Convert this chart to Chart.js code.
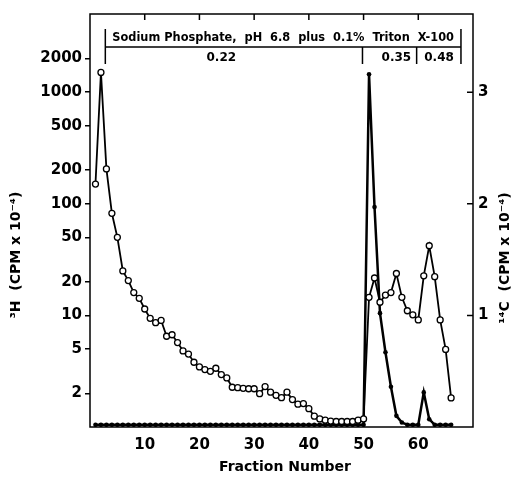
<!DOCTYPE html>
<html>
<head>
<meta charset="utf-8">
<script src="https://cdn.jsdelivr.net/npm/chart.js@4/dist/chart.umd.min.js"></script>
<style>
  html, body { margin: 0; padding: 0; background: #fff; }
  canvas { display: block; }
</style>
</head>
<body>
<canvas id="chart" width="517" height="477"></canvas>
<script>
// Fraction numbers and counts
const fractions = [1, 2, 3, 4, 5, 6, 7, 8, 9, 10, 11, 12, 13, 14, 15, 16, 17, 18, 19, 20,
  21, 22, 23, 24, 25, 26, 27, 28, 29, 30, 31, 32, 33, 34, 35, 36, 37, 38, 39, 40,
  41, 42, 43, 44, 45, 46, 47, 48, 49, 50, 51, 52, 53, 54, 55, 56, 57, 58, 59, 60,
  61, 62, 63, 64, 65, 66];

// 3H, open circles, left log axis
const tritium = [150, 1500, 205, 82, 50, 25, 20.5, 16, 14.2, 11.4,
  9.4, 8.6, 9.0, 6.5, 6.7, 5.7, 4.8, 4.5, 3.8, 3.45,
  3.27, 3.15, 3.36, 2.95, 2.75, 2.27, 2.25, 2.22, 2.2, 2.2,
  1.99, 2.3, 2.05, 1.92, 1.83, 2.05, 1.76, 1.6, 1.62, 1.46,
  1.25, 1.18, 1.15, 1.13, 1.12, 1.12, 1.12, 1.12, 1.15, 1.18,
  14.5, 21.6, 13.1, 15.2, 16.0, 23.7, 14.5, 11.0, 10.1, 9.1,
  22.6, 42, 22.2, 9.1, 4.95, 1.82];

// 14C, filled dots, right linear axis
const carbon = [0.02, 0.02, 0.02, 0.02, 0.02, 0.02, 0.02, 0.02, 0.02, 0.02,
  0.02, 0.02, 0.02, 0.02, 0.02, 0.02, 0.02, 0.02, 0.02, 0.02,
  0.02, 0.02, 0.02, 0.02, 0.02, 0.02, 0.02, 0.02, 0.02, 0.02,
  0.02, 0.02, 0.02, 0.02, 0.02, 0.02, 0.02, 0.02, 0.02, 0.02,
  0.02, 0.02, 0.02, 0.02, 0.02, 0.02, 0.02, 0.02, 0.02, 0.02,
  3.16, 1.97, 1.02, 0.67, 0.36, 0.1, 0.04, 0.02, 0.02, 0.02,
  0.31, 0.07, 0.02, 0.02, 0.02, 0.02];

const leftTicks = [2, 5, 10, 20, 50, 100, 200, 500, 1000, 2000];
const rightTicks = [1, 2, 3];
const xTicks = [10, 20, 30, 40, 50, 60];

// buffer steps (in fraction numbers)
const bufferEdges = [2.8, 49.8, 59.7, 67.8];
const bufferLabels = ['0.22', '0.35', '0.48'];
const bufferLabelAt = [24, 56, 63.8];
const bufferTitle = 'Sodium Phosphate,  pH  6.8  plus  0.1%  Triton  X-100';

const FONT = '"DejaVu Sans", sans-serif';

const decorations = {
  id: 'decorations',
  afterDraw(chart) {
    const { ctx, chartArea: a, scales } = chart;
    const x = scales.x;
    const yr = scales.y1;
    ctx.save();
    ctx.strokeStyle = '#000';
    ctx.fillStyle = '#000';
    ctx.lineWidth = 1.5;

    // plot frame
    ctx.strokeRect(a.left, a.top, a.right - a.left, a.bottom - a.top);

    // inward ticks on top and right edges
    ctx.beginPath();
    xTicks.forEach(v => {
      const px = x.getPixelForValue(v);
      ctx.moveTo(px, a.top);
      ctx.lineTo(px, a.top + 6);
    });
    rightTicks.forEach(v => {
      const py = yr.getPixelForValue(v);
      ctx.moveTo(a.right - 6, py);
      ctx.lineTo(a.right, py);
    });
    ctx.stroke();

    // buffer bracket
    const ex = bufferEdges.map(v => x.getPixelForValue(v));
    const lineY = a.top + 33;
    ctx.beginPath();
    ctx.moveTo(ex[0], lineY);
    ctx.lineTo(ex[ex.length - 1], lineY);
    ctx.moveTo(ex[0], a.top + 15);
    ctx.lineTo(ex[0], a.top + 50);
    ctx.moveTo(ex[ex.length - 1], a.top + 15);
    ctx.lineTo(ex[ex.length - 1], a.top + 50);
    for (let i = 1; i < ex.length - 1; i++) {
      ctx.moveTo(ex[i], lineY);
      ctx.lineTo(ex[i], a.top + 50);
    }
    ctx.stroke();

    ctx.textAlign = 'center';
    ctx.textBaseline = 'middle';
    ctx.font = 'bold 12px ' + FONT;
    ctx.fillText(bufferTitle, (ex[0] + ex[ex.length - 1]) / 2, a.top + 24, ex[ex.length - 1] - ex[0] - 14);
    bufferLabels.forEach((t, i) => {
      ctx.fillText(t, x.getPixelForValue(bufferLabelAt[i]), a.top + 44);
    });

    // axis titles
    ctx.font = 'bold 14px ' + FONT;
    ctx.fillText('Fraction Number', 285, 467);

    ctx.save();
    ctx.translate(16, 255);
    ctx.rotate(-Math.PI / 2);
    ctx.fillText('\u00B3H  (CPM x 10\u207B\u2074)', 0, 0);
    ctx.restore();

    ctx.save();
    ctx.translate(505, 258);
    ctx.rotate(-Math.PI / 2);
    ctx.fillText('\u00B9\u2074C  (CPM x 10\u207B\u2074)', 0, 0);
    ctx.restore();

    ctx.restore();
  }
};

const ctx = document.getElementById('chart').getContext('2d');

new Chart(ctx, {
  type: 'line',
  data: {
    datasets: [{
      label: '3H',
      data: fractions.map((f, i) => ({ x: f, y: tritium[i] })),
      yAxisID: 'y',
      borderColor: '#000',
      borderWidth: 1.8,
      pointRadius: 3,
      pointBackgroundColor: '#fff',
      pointBorderColor: '#000',
      pointBorderWidth: 1.3,
      tension: 0
    }, {
      label: '14C',
      data: fractions.map((f, i) => ({ x: f, y: carbon[i] })),
      yAxisID: 'y1',
      borderColor: '#000',
      borderWidth: 2.5,
      pointRadius: 2.3,
      pointBackgroundColor: '#000',
      pointBorderColor: '#000',
      pointBorderWidth: 0,
      tension: 0
    }]
  },
  options: {
    responsive: false,
    animation: false,
    layout: { padding: { top: 12, left: 0, right: 0, bottom: 0 } },
    plugins: {
      legend: { display: false },
      tooltip: { enabled: false }
    },
    scales: {
      x: {
        type: 'linear',
        min: 0,
        max: 70,
        afterBuildTicks: s => { s.ticks = xTicks.map(v => ({ value: v })); },
        afterFit: s => { s.height = 50; },
        grid: { display: false, drawTicks: false },
        border: { display: false },
        ticks: {
          autoSkip: false,
          maxRotation: 0,
          padding: 9,
          color: '#000',
          font: { family: FONT, size: 15, weight: 'bold' }
        }
      },
      y: {
        type: 'logarithmic',
        position: 'left',
        min: 1,
        max: 5000,
        afterBuildTicks: s => { s.ticks = leftTicks.map(v => ({ value: v })); },
        afterFit: s => { s.width = 90; },
        grid: {
          display: true,
          drawOnChartArea: false,
          drawTicks: true,
          tickLength: 5,
          color: '#000',
          lineWidth: 1.5
        },
        border: { display: false },
        ticks: {
          autoSkip: false,
          padding: 3,
          color: '#000',
          font: { family: FONT, size: 15, weight: 'bold' },
          callback: v => String(v)
        }
      },
      y1: {
        type: 'linear',
        position: 'right',
        min: 0,
        max: 3.7,
        afterBuildTicks: s => { s.ticks = rightTicks.map(v => ({ value: v })); },
        afterFit: s => { s.width = 44; },
        grid: { display: false, drawTicks: false },
        border: { display: false },
        ticks: {
          autoSkip: false,
          padding: 5,
          color: '#000',
          font: { family: FONT, size: 15, weight: 'bold' },
          callback: v => String(v)
        }
      }
    }
  },
  plugins: [decorations]
});
</script>
</body>
</html>
